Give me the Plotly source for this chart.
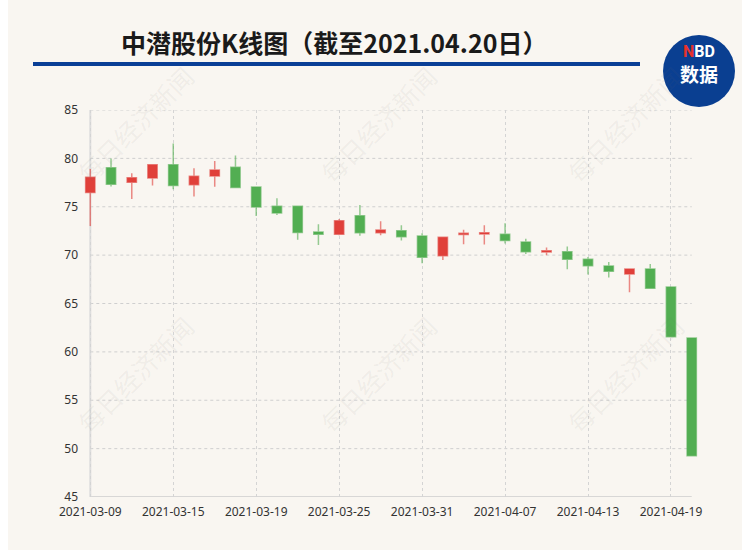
import plotly.graph_objects as go

# 中潜股份 daily K-line, 2021-03-09 .. 2021-04-20 (trading days only)
dates = ['2021-03-09', '2021-03-10', '2021-03-11', '2021-03-12', '2021-03-15',
         '2021-03-16', '2021-03-17', '2021-03-18', '2021-03-19', '2021-03-22',
         '2021-03-23', '2021-03-24', '2021-03-25', '2021-03-26', '2021-03-29',
         '2021-03-30', '2021-03-31', '2021-04-01', '2021-04-02', '2021-04-06',
         '2021-04-07', '2021-04-08', '2021-04-09', '2021-04-12', '2021-04-13',
         '2021-04-14', '2021-04-15', '2021-04-16', '2021-04-19', '2021-04-20']
opens = [76.46, 79.04, 77.53, 77.97, 79.35, 77.28, 78.18, 79.08, 77.04, 75.04,
         75.04, 72.40, 72.15, 74.08, 72.32, 72.53, 71.98, 69.94, 72.12, 72.18,
         72.15, 71.36, 70.32, 70.36, 69.57, 68.88, 68.05, 68.57, 66.70, 61.43]
highs = [78.90, 80.00, 78.45, 79.40, 81.55, 78.97, 79.73, 80.30, 77.04, 75.87,
         75.04, 73.20, 73.73, 75.18, 73.50, 73.10, 72.25, 71.84, 72.63, 73.10,
         73.30, 71.70, 70.78, 70.88, 69.81, 69.30, 68.57, 69.08, 66.70, 61.43]
lows = [73.00, 77.10, 75.80, 77.20, 76.80, 76.05, 77.08, 76.98, 74.04, 74.15,
        71.60, 71.05, 72.05, 72.00, 72.05, 71.50, 69.16, 69.50, 71.12, 71.10,
        71.20, 70.12, 70.00, 68.53, 68.00, 67.70, 66.16, 66.57, 61.57, 49.27]
closes = [78.05, 77.32, 78.00, 79.35, 77.19, 78.14, 78.80, 77.00, 74.97, 74.35,
          72.35, 72.15, 73.56, 72.32, 72.60, 71.91, 69.78, 71.84, 72.25, 72.32,
          71.50, 70.36, 70.46, 69.57, 68.91, 68.33, 68.57, 66.57, 61.57, 49.27]
y_ticks = [45, 50, 55, 60, 65, 70, 75, 80, 85]

pos = list(range(len(dates)))
tick_idx = pos[::4]

# page body keeps its 8px left margin, so the figure is 742 wide
W, H = 742, 550
L, R, T, B = 74, 50, 110, 53
BG = '#f9f6f1'


def px(X):  # screen pixel -> paper x
    return (X - 8 - L) / (W - L - R)


def py(Y):  # screen pixel -> paper y
    return (H - B - Y) / (H - T - B)


fig = go.Figure()
fig.add_trace(go.Candlestick(
    x=pos, open=opens, high=highs, low=lows, close=closes,
    increasing=dict(fillcolor='#e0403a', line=dict(color='rgba(224,64,58,0.6)', width=1.5)),
    decreasing=dict(fillcolor='#52ae52', line=dict(color='rgba(82,174,82,0.6)', width=1.5)),
    whiskerwidth=0, showlegend=False, hoverinfo='skip'))

# horizontal dashed grid, only across the category span
shapes = []
for v in y_ticks[1:]:
    shapes.append(dict(type='line', xref='x', yref='y', x0=pos[0], x1=pos[-1], y0=v, y1=v,
                       line=dict(color='#cfcfcf', width=1, dash='3px,3px'), layer='below'))
# axis lines
shapes.append(dict(type='line', xref='x', yref='y', x0=pos[0], x1=pos[-1], y0=45, y1=45,
                   line=dict(color='#cccccc', width=1.5), layer='below'))
shapes.append(dict(type='line', xref='x', yref='y', x0=pos[0], x1=pos[0], y0=45, y1=85,
                   line=dict(color='#dddddd', width=2), layer='below'))
# title underline
shapes.append(dict(type='line', xref='paper', yref='paper', x0=px(33), x1=px(640), y0=py(64), y1=py(64),
                   line=dict(color='#0a3f96', width=4)))
# NBD logo circle
shapes.append(dict(type='circle', xref='paper', yref='paper', x0=px(663), x1=px(735), y0=py(107), y1=py(35),
                   fillcolor='#0a3f91', line=dict(width=0)))

annotations = [
    dict(text='<b>中潜股份K线图（截至2021.04.20日）</b>', xref='paper', yref='paper',
         x=px(334), y=py(42), xanchor='center', yanchor='middle', showarrow=False,
         font=dict(family='Noto Sans CJK SC', size=25, color='#1a1a1a')),
    dict(text='<b><span style="color:#e8322c">N</span>BD</b>', xref='paper', yref='paper',
         x=px(699), y=py(51), xanchor='center', yanchor='middle', showarrow=False,
         font=dict(family='Roboto', size=16, color='white')),
    dict(text='<b>数据</b>', xref='paper', yref='paper', x=px(699), y=py(73),
         xanchor='center', yanchor='middle', showarrow=False,
         font=dict(family='Noto Sans CJK SC', size=19, color='white')),
]
# faint watermark
for cx in (135, 378, 625):
    for cy in (124, 374):
        annotations.append(dict(text='每日经济新闻', xref='paper', yref='paper', x=px(cx), y=py(cy),
                                xanchor='center', yanchor='middle', showarrow=False, textangle=-45,
                                font=dict(family='Noto Sans CJK SC', size=25, color='rgba(110,110,110,0.08)')))

fig.update_layout(
    width=W, height=H, margin=dict(l=L, r=R, t=T, b=B),
    paper_bgcolor=BG, plot_bgcolor=BG,
    font=dict(family='Noto Sans', size=12, color='#333333'),
    boxgap=0.55, boxgroupgap=0,
    shapes=shapes, annotations=annotations,
    xaxis=dict(range=[-0.4, len(dates) - 0.6], tickvals=tick_idx, ticktext=[dates[i] for i in tick_idx],
               showgrid=True, gridcolor='#d4d4d4', griddash='dot', gridwidth=1,
               zeroline=False, showline=False, ticks='', rangeslider=dict(visible=False),
               ticklabelstandoff=6, tickfont=dict(size=12, color='#333333'), fixedrange=True),
    yaxis=dict(range=[45, 85], tickvals=y_ticks, showgrid=False, zeroline=False, showline=False,
               ticks='', ticklabelstandoff=3, tickfont=dict(size=12, color='#333333'), fixedrange=True),
)

fig.write_html("out.html", post_script="document.body.style.marginTop='0px';")
